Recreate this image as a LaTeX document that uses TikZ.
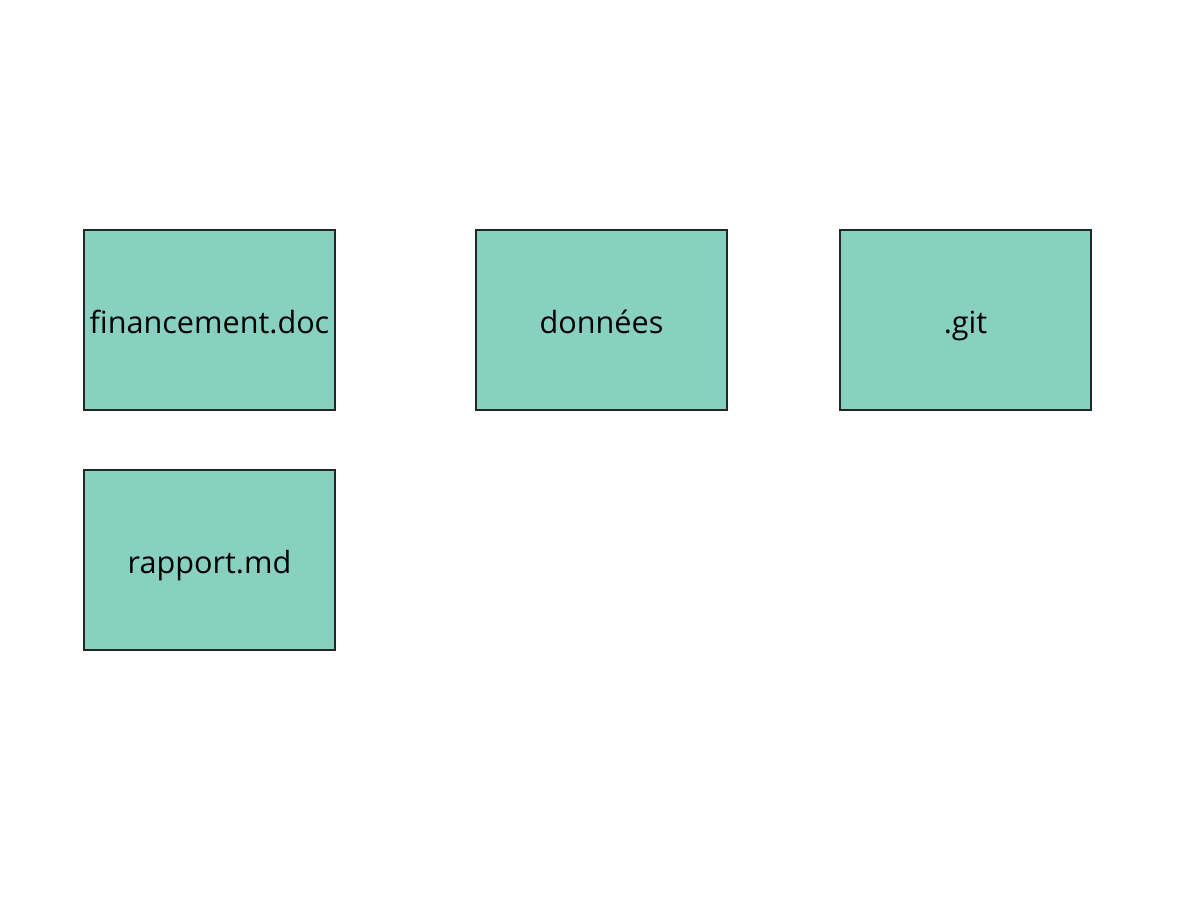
\documentclass[tikz,border=0pt]{standalone}
\usepackage{fontspec}
\setmainfont{Open Sans}
\definecolor{boxfill}{HTML}{88D1C1}
\begin{document}
\begin{tikzpicture}[x=0.5pt,y=-0.5pt,
  box/.style={draw=black!85,line width=0.8pt,fill=boxfill,minimum width=125.5pt,minimum height=90pt,inner sep=0pt,text height=15pt,text depth=2pt,font=\fontsize{15.3}{17}\selectfont}]
\useasboundingbox (0,0) rectangle (1200,896);
\node[box] (fin) at (209.5,320) {financement.doc};
\node[box] (don) at (601.5,320) {données};
\node[box] (git) at (965.5,320) {.git};
\node[box] (rap) at (209.5,560) {rapport.md};
\end{tikzpicture}
\end{document}
